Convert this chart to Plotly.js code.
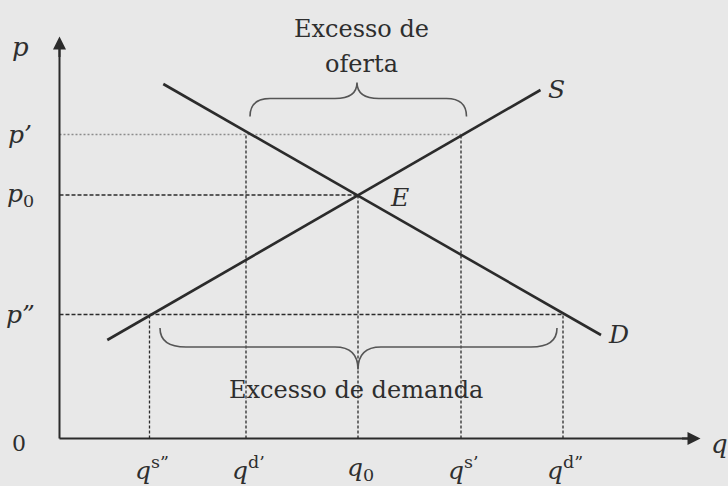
<!DOCTYPE html>
<html>
<head>
<meta charset="utf-8">
<script src="https://cdn.plot.ly/plotly-3.0.1.min.js"></script>
<style>html,body{margin:0;padding:0;background:#e8e8e8;}#chart{width:728px;height:486px;}</style>
</head>
<body>
<div id="chart"></div>
<script>
// Quantities (q) and prices (p)
const qLabels = ["q<sup>s”</sup>", "q<sup>d’</sup>", "q<sub>0</sub>", "q<sup>s’</sup>", "q<sup>d”</sup>"];
const qValues = [9.0, 18.65, 29.85, 40.15, 50.35];
const pLabels = ["p’", "p<sub>0</sub>", "p”"];
const pValues = [30.4, 24.35, 12.4];
// Supply and demand curves (two end points each)
const supplyQ = [4.78, 48.1];
const supplyP = [9.85, 34.85];
const demandQ = [10.38, 54.15];
const demandP = [35.45, 10.35];
// Axis extents
const qMax = 64.1;
const pMax = 40.0;

const [qs2, qd1, q0, qs1, qd2] = qValues;
const [p1, p0, p2] = pValues;

const ink = '#2b2b2b';
const txt = '#2e2e2e';
const serif = 'DejaVu Serif, Liberation Serif, serif';

function seg(x, y, color, dash, width) {
  return {x: x, y: y, type: 'scatter', mode: 'lines', hoverinfo: 'skip',
          line: {color: color, dash: dash, width: width}, showlegend: false};
}

const traces = [
  // p' guide lines
  seg([0, qs1], [p1, p1], '#8c8c8c', '2px,2px', 1.3),
  seg([qd1, qd1], [0, p1], ink, '3px,2px', 1.3),
  seg([qs1, qs1], [0, p1], ink, '3px,2px', 1.3),
  // p0 guide lines
  seg([0, q0], [p0, p0], ink, '4px,2px', 1.3),
  seg([q0, q0], [0, p0], ink, '3px,2px', 1.3),
  // p'' guide lines
  seg([0, qd2], [p2, p2], ink, '4px,2px', 1.3),
  seg([qs2, qs2], [0, p2], ink, '3px,2px', 1.3),
  seg([qd2, qd2], [0, p2], ink, '3px,2px', 1.3),
  // curves
  seg(supplyQ, supplyP, ink, 'solid', 2.6),
  seg(demandQ, demandP, ink, 'solid', 2.6),
  // axes
  seg([0, 0], [0, pMax - 0.8], ink, 'solid', 2),
  seg([0, qMax - 0.8], [0, 0], ink, 'solid', 2)
];

function brace(x1, x2, xm, yEnd, yFlat, yTip, r, r2) {
  return `M ${x1},${yEnd} Q ${x1},${yFlat} ${x1 + r},${yFlat} L ${xm - r2},${yFlat} ` +
         `Q ${xm},${yFlat} ${xm},${yTip} Q ${xm},${yFlat} ${xm + r2},${yFlat} ` +
         `L ${x2 - r},${yFlat} Q ${x2},${yFlat} ${x2},${yEnd}`;
}

const shapes = [
  {type: 'path', xref: 'x', yref: 'y',
   path: brace(qd1 + 0.4, qs1 + 0.55, q0 - 0.1, p1 + 1.8, p1 + 3.6, p1 + 5.2, 2.0, 2.2),
   line: {color: '#555555', width: 1.6}},
  {type: 'path', xref: 'x', yref: 'y',
   path: brace(qs2 + 1.05, qd2 - 0.6, q0, p2 - 1.35, p2 - 3.25, p2 - 5.5, 2.6, 2.3),
   line: {color: '#555555', width: 1.6}}
];

const annotations = [];
function label(x, y, text, size, xanchor) {
  annotations.push({x: x, y: y, xref: 'x', yref: 'y', text: text, showarrow: false,
    xanchor: xanchor || 'center', yanchor: 'middle',
    font: {family: serif, size: size, color: txt}});
}

// axis arrowheads
annotations.push({x: 0, y: pMax + 0.2, ax: 0, ay: pMax - 2, xref: 'x', yref: 'y', axref: 'x', ayref: 'y',
  text: '', showarrow: true, arrowhead: 2, arrowsize: 1.3, arrowwidth: 2, arrowcolor: ink});
annotations.push({x: qMax, y: 0, ax: qMax - 2, ay: 0, xref: 'x', yref: 'y', axref: 'x', ayref: 'y',
  text: '', showarrow: true, arrowhead: 2, arrowsize: 1.3, arrowwidth: 2, arrowcolor: ink});

// q tick labels
qLabels.forEach((t, i) => label(qValues[i] + 0.2, -3.0, '<i>' + t.replace(/<(sup|sub)>/, '</i><$1>'), 25));
// p tick labels
pLabels.forEach((t, i) => label(-3.95, pValues[i], '<i>' + t.replace(/<(sub)>/, '</i><$1>') + (t.indexOf('<sub>') < 0 ? '</i>' : ''), 25));

label(-3.95, 39.2, '<i>p</i>', 26);
label(-4.1, -0.45, '0', 22);
label(66.0, -0.5, '<i>q</i>', 26);
label(q0 + 4.1, p0 - 0.2, '<i>E</i>', 25);
label(supplyQ[1] + 1.6, supplyP[1] + 0.1, '<i>S</i>', 25);
label(demandQ[1] + 1.7, demandP[1] + 0.05, '<i>D</i>', 25);

label(q0 + 0.35, 41.0, 'Excesso de', 24);
label(q0 + 0.35, 37.5, 'oferta', 24);
label(q0 - 0.25, 4.9, 'Excesso de demanda', 24);

const layout = {
  width: 728, height: 486,
  margin: {l: 0, r: 0, t: 0, b: 0, pad: 0},
  paper_bgcolor: '#e8e8e8', plot_bgcolor: '#e8e8e8',
  xaxis: {range: [-5.95, 66.85], visible: false, fixedrange: true},
  yaxis: {range: [-4.75, 43.85], visible: false, fixedrange: true},
  shapes: shapes, annotations: annotations, showlegend: false
};

Plotly.newPlot('chart', traces, layout, {staticPlot: true, displayModeBar: false});
</script>
</body>
</html>
